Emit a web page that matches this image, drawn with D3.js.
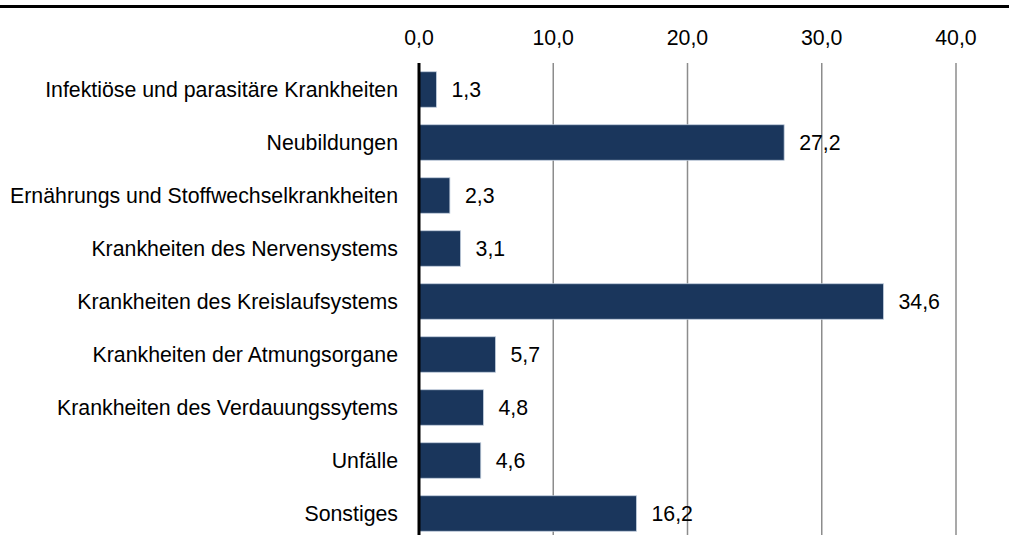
<!DOCTYPE html>
<html>
<head>
<meta charset="utf-8">
<script src="https://cdn.jsdelivr.net/npm/d3@7"></script>
<style>
  body { margin: 0; background: #fff; }
  svg text { font-family: "Liberation Sans", Arial, sans-serif; fill: #000; }
</style>
</head>
<body>
<div id="chart"></div>
<script>
const categories = [
  "Infektiöse und parasitäre Krankheiten",
  "Neubildungen",
  "Ernährungs und Stoffwechselkrankheiten",
  "Krankheiten des Nervensystems",
  "Krankheiten des Kreislaufsystems",
  "Krankheiten der Atmungsorgane",
  "Krankheiten des Verdauungssytems",
  "Unfälle",
  "Sonstiges"
];
const values = [1.3, 27.2, 2.3, 3.1, 34.6, 5.7, 4.8, 4.6, 16.2];
const tickValues = [0, 10, 20, 30, 40];

const width = 1009, height = 535;
const fontSize = "21.3px";
const fmt = v => d3.format(".1f")(v).replace(".", ",");

const svg = d3.select("#chart").append("svg")
  .attr("width", width)
  .attr("height", height);

// top rule
svg.append("line")
  .attr("x1", 0).attr("x2", width)
  .attr("y1", 6.5).attr("y2", 6.5)
  .attr("stroke", "#000").attr("stroke-width", 3);

const x = d3.scaleLinear().domain([0, 40]).range([419, 956]);
const y = d3.scaleBand().domain(categories).range([63, 540]).paddingInner(0.33).paddingOuter(0.165);

// gridlines
svg.append("g").selectAll("line")
  .data(tickValues.filter(d => d > 0))
  .enter().append("line")
  .attr("x1", d => x(d)).attr("x2", d => x(d))
  .attr("y1", 63).attr("y2", height)
  .attr("stroke", "#8c8c8c").attr("stroke-width", 1.5);

// top axis labels
svg.append("g").selectAll("text")
  .data(tickValues)
  .enter().append("text")
  .attr("x", d => x(d))
  .attr("y", 45)
  .attr("text-anchor", "middle")
  .style("font-size", fontSize)
  .text(fmt);

// bars
svg.append("g").selectAll("rect")
  .data(values)
  .enter().append("rect")
  .attr("x", x(0))
  .attr("y", (d, i) => y(categories[i]))
  .attr("width", d => x(d) - x(0))
  .attr("height", y.bandwidth())
  .attr("fill", "#1a365c")
  .attr("stroke", "#c3cfde")
  .attr("stroke-width", 0.8);

// zero line
svg.append("line")
  .attr("x1", x(0)).attr("x2", x(0))
  .attr("y1", 63).attr("y2", height)
  .attr("stroke", "#000").attr("stroke-width", 3);

// value labels
svg.append("g").selectAll("text")
  .data(values)
  .enter().append("text")
  .attr("x", d => x(d) + 15)
  .attr("y", (d, i) => y(categories[i]) + y.bandwidth() / 2)
  .attr("dy", "0.36em")
  .style("font-size", fontSize)
  .text(fmt);

// category labels
svg.append("g").selectAll("text")
  .data(categories)
  .enter().append("text")
  .attr("x", 398)
  .attr("y", d => y(d) + y.bandwidth() / 2)
  .attr("dy", "0.36em")
  .attr("text-anchor", "end")
  .style("font-size", fontSize)
  .text(d => d);
</script>
</body>
</html>
